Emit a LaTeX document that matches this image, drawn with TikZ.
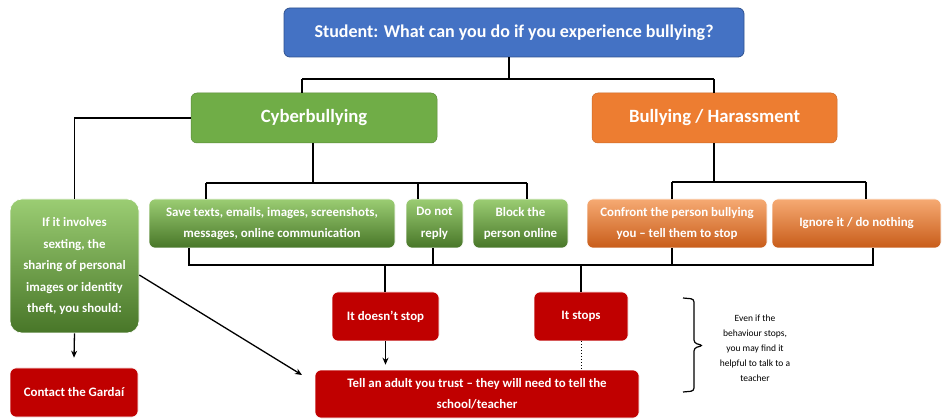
\documentclass[tikz,border=0pt]{standalone}
\usepackage{fontspec}
\setmainfont{Carlito}
\usetikzlibrary{arrows.meta}
\definecolor{cblue}{HTML}{4472C4}
\definecolor{cblueD}{HTML}{2F528F}
\definecolor{cgreen}{HTML}{70AD47}
\definecolor{corange}{HTML}{ED7D31}
\definecolor{gtop}{RGB}{155,205,115}
\definecolor{gbot}{RGB}{72,118,40}
\definecolor{otop}{RGB}{246,170,115}
\definecolor{obot}{RGB}{200,92,25}
\definecolor{cred}{HTML}{C00000}
\tikzset{
  box/.style={rectangle, rounded corners=6pt, inner sep=0pt, align=center, text=white,
    font=\bfseries\fontsize{12.9}{21.5}\selectfont},
  topbox/.style={box, fill=cblue, draw=cblueD, line width=0.8pt, font=\bfseries\fontsize{18}{20}\selectfont},
  catgreen/.style={box, fill=cgreen, draw=cgreen!80!black, line width=0.5pt, font=\bfseries\fontsize{18.7}{20}\selectfont},
  catorange/.style={box, fill=corange, draw=corange!85!black, line width=0.5pt, font=\bfseries\fontsize{18.7}{20}\selectfont},
  gbox/.style={box, top color=gtop, bottom color=gbot, draw=white, line width=0.6pt},
  obox/.style={box, top color=otop, bottom color=obot, draw=white, line width=0.6pt},
  rbox/.style={box, fill=cred, draw=white, line width=0.6pt},
  conn/.style={draw=black, line width=1.3pt},
  arr/.style={conn, -{Stealth[length=7pt,width=6pt]}},
}
\begin{document}
\begin{tikzpicture}[x=1pt,y=-1pt]
\useasboundingbox[fill=white] (0,0) rectangle (942,419);
% nodes
\node[topbox, minimum width=460, minimum height=49] (top) at (514,32.5) {Student: What can you do if you experience bullying?};
\node[catgreen, minimum width=246, minimum height=50] (cyber) at (314,118) {Cyberbullying};
\node[catorange, minimum width=245, minimum height=50] (bully) at (714.5,118) {Bullying / Harassment};
\node[gbox, rounded corners=12pt, minimum width=129, minimum height=134] (sext) at (74.5,266) {If it involves\\sexting, the\\sharing of personal\\images or identity\\theft, you should:};
\node[gbox, minimum width=246, minimum height=49] (save) at (272,223.5) {Save texts, emails, images, screenshots,\\messages, online communication};
\node[gbox, minimum width=57, minimum height=49] (noreply) at (434.5,223.5) {Do not\\reply};
\node[gbox, minimum width=95, minimum height=49] (block) at (520.5,223.5) {Block the\\person online};
\node[obox, minimum width=180, minimum height=49] (confront) at (677,223.5) {Confront the person bullying\\you -- tell them to stop};
\node[obox, minimum width=169, minimum height=49] (ignore) at (856.5,223.5) {Ignore it / do nothing};
\node[rbox, minimum width=128, minimum height=49] (gardai) at (74,392.5) {Contact the Gardaí};
\node[rbox, minimum width=107, minimum height=49] (doesnt) at (385.5,316.5) {It doesn’t stop};
\node[rbox, minimum width=94, minimum height=49] (stops) at (581,316.5) {It stops};
\node[rbox, minimum width=324, minimum height=48] (tell) at (477,394) {Tell an adult you trust -- they will need to tell the\\school/teacher};
\node[align=center, inner sep=0pt, font=\fontsize{9.5}{15}\selectfont] (note) at (755,348) {Even if the\\behaviour stops,\\you may find it\\helpful to talk to a\\teacher};
% junction coordinates
\coordinate (j1) at (509,79);
\coordinate (jc) at (302,79);
\coordinate (jb) at (714,79);
\coordinate (k1) at (313,183);
\coordinate (ks) at (206,183);
\coordinate (kn) at (418,183);
\coordinate (kb) at (527,183);
\coordinate (h1) at (714,182);
\coordinate (hc) at (672,182);
\coordinate (hi) at (866,182);
\coordinate (b1) at (189,265);
\coordinate (b2) at (433,265);
\coordinate (b3) at (672,265);
\coordinate (b4) at (873,265);
\coordinate (bd) at (385,265);
\coordinate (bs) at (581,265);
\coordinate (diagend) at (302,375);
% connectors
\draw[conn] (top.south -| j1) -- (j1);
\draw[conn] (jc) -- (jb);
\draw[conn] (jc) -- (cyber.north -| jc);
\draw[conn] (jb) -- (bully.north -| jb);
\draw[conn] (cyber.west) -| (sext.north);
\draw[conn] (cyber.south -| k1) -- (k1);
\draw[conn, line width=1.8pt] (ks) -- (kb);
\draw[conn] (ks) -- (save.north -| ks);
\draw[conn] (kn) -- (noreply.north -| kn);
\draw[conn] (kb) -- (block.north -| kb);
\draw[conn] (bully.south -| h1) -- (h1);
\draw[conn] (hc) -- (hi);
\draw[conn] (hc) -- (confront.north -| hc);
\draw[conn] (hi) -- (ignore.north -| hi);
\draw[conn] (save.south -| b1) -- (b1) -- (b4) -- (ignore.south -| b4);
\draw[conn] (noreply.south -| b2) -- (b2);
\draw[conn] (confront.south -| b3) -- (b3);
\draw[conn] (bd) -- (doesnt.north -| bd);
\draw[conn] (bs) -- (stops.north -| bs);
\draw[arr] (sext.south) -- ([yshift=10pt]gardai.north);
\draw[arr] (doesnt.south) -- ([yshift=5pt]tell.north -| doesnt.south);
\draw[conn, line width=1pt, dotted] (stops.south) -- (tell.north -| stops.south);
\draw[arr] ([yshift=-9pt]sext.east) -- (diagend);
% brace
\draw[line width=1.2pt, rounded corners=3pt] (683,298) -- (694,299) -- (694,343) -- (703,345.5) -- (694,348) -- (694,391) -- (683,392);
\end{tikzpicture}
\end{document}
